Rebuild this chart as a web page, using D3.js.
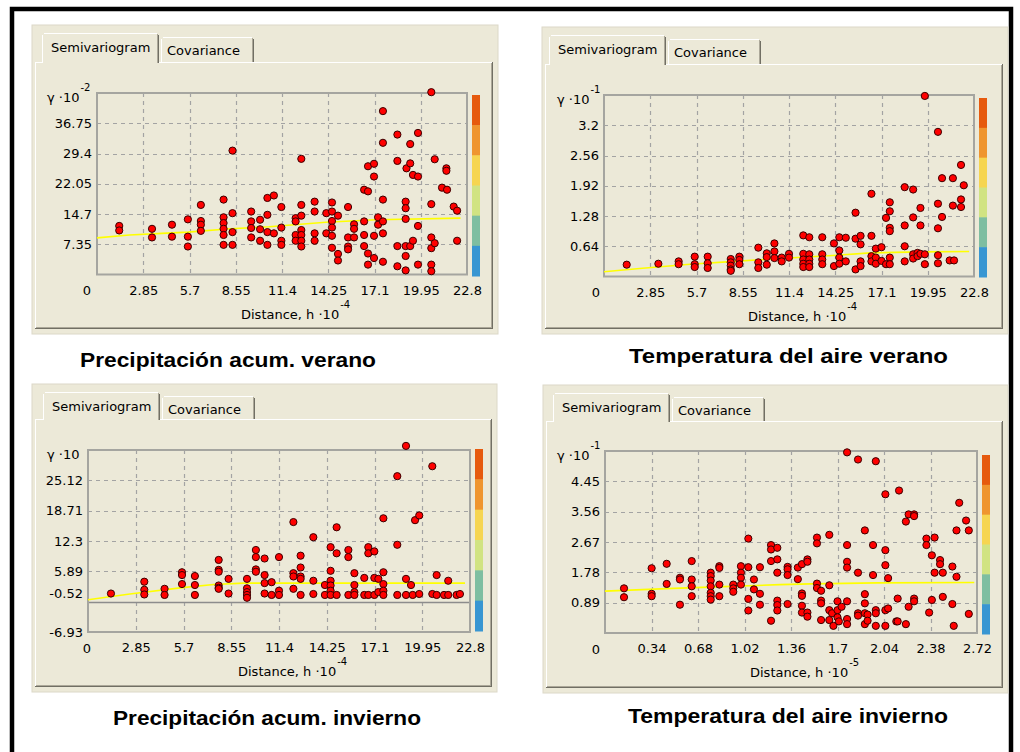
<!DOCTYPE html>
<html>
<head>
<meta charset="utf-8">
<script src="https://cdn.jsdelivr.net/npm/d3@7"></script>
<style>
  body { margin: 0; background: #fff; }
  svg { display: block; }
</style>
</head>
<body>
<svg id="fig" width="1020" height="752"></svg>
<script>
// Tick labels
const xTicksH4 = [2.85, 5.7, 8.55, 11.4, 14.25, 17.1, 19.95, 22.8];
const xTicksH5 = [0.34, 0.68, 1.02, 1.36, 1.7, 2.04, 2.38, 2.72];
const yTicksPrecVer = [7.35, 14.7, 22.05, 29.4, 36.75];
const yTicksTempVer = [0.64, 1.28, 1.92, 2.56, 3.2];
const yTicksPrecInv = [-6.93, -0.52, 5.89, 12.3, 18.71, 25.12];
const yTicksTempInv = [0.89, 1.78, 2.67, 3.56, 4.45];

// Colour bar, top to bottom
const barColors = ['#e65a0e', '#ef952f', '#f6d550', '#d1e382', '#7ebea1', '#3896d2'];

// Empirical semivariogram points [distance, gamma]
const precVeranoPts = [
  [1.37,11.8],[1.37,10.7],[3.39,11.1],[3.39,9.0],[4.62,12.1],[4.62,9.2],
  [5.6,13.4],[5.6,9.2],[5.6,6.8],[6.4,16.9],[6.4,13.0],[6.4,12.1],[6.4,10.6],
  [7.8,18.2],[7.8,13.9],[7.8,12.5],[7.8,11.1],[7.8,9.6],[7.8,7.2],
  [8.35,30.1],[8.35,14.9],[8.35,10.3],[8.35,7.2],
  [9.5,15.3],[9.5,12.9],[9.5,11.3],[9.5,9.0],[10.05,13.3],[10.05,11.0],[10.05,8.2],
  [10.5,18.6],[10.5,14.5],[10.5,10.3],[10.5,7.2],[10.9,19.2],[10.9,10.0],
  [11.36,16.4],[11.36,11.4],[11.36,8.2],[11.36,7.2],
  [12.24,13.7],[12.24,12.9],[12.24,9.6],[12.24,8.2],
  [12.59,28.1],[12.59,16.9],[12.59,14.3],[12.59,10.8],[12.59,9.6],[12.59,8.2],[12.59,6.8],
  [13.41,17.7],[13.41,15.3],[13.41,10.0],[13.41,8.2],[14.13,14.9],[14.13,10.0],
  [14.48,17.5],[14.48,15.3],[14.48,13.0],[14.48,11.4],[14.48,9.4],[14.48,6.5],
  [14.85,14.3],[14.85,5.0],[14.85,3.4],
  [15.47,16.4],[15.47,9.0],[15.47,6.8],[15.47,6.1],[15.84,12.2],[15.84,11.1],[15.84,9.0],
  [16.46,20.6],[16.46,12.9],[16.46,9.6],[16.46,6.9],
  [16.7,26.3],[16.7,20.2],[16.7,5.1],[16.7,2.4],
  [17.07,26.9],[17.07,23.8],[17.07,9.4],[17.07,4.0],[17.32,13.9],[17.32,12.1],
  [17.62,39.7],[17.62,32.0],[17.62,18.2],[17.62,12.9],[17.62,10.0],[17.62,3.1],
  [18.51,34.0],[18.51,27.6],[18.51,6.9],[18.51,2.0],
  [19.02,17.7],[19.02,16.1],[19.02,13.5],[19.02,6.9],[19.02,4.5],[19.02,1.0],
  [19.07,25.8],[19.3,31.7],[19.3,27.0],[19.3,6.9],[19.47,24.2],[19.47,8.2],
  [19.78,34.4],[19.78,23.8],[19.78,11.8],[19.78,2.4],
  [20.6,44.3],[20.6,17.1],[20.6,9.0],[20.6,6.4],[20.6,2.4],[20.6,0.8],
  [20.81,28.0],[20.81,7.6],[21.26,21.1],[21.57,20.6],[21.53,25.8],[21.53,25.2],
  [21.98,16.5],[22.19,15.5],[22.19,8.2]
];

const tempVeranoPts = [
  [1.40,0.25],[3.35,0.27],[4.6,0.32],[4.6,0.26],
  [5.59,0.42],[5.59,0.26],[5.59,0.20],[6.39,0.42],[6.39,0.28],[6.39,0.18],
  [7.81,0.37],[7.81,0.30],[7.81,0.23],[7.81,0.15],[7.81,0.12],
  [8.34,0.42],[8.34,0.35],[8.34,0.26],[9.51,0.61],[9.51,0.30],[9.51,0.18],
  [10.03,0.49],[10.03,0.41],[10.03,0.25],[10.5,0.70],[10.5,0.53],[10.5,0.39],
  [10.95,0.40],[10.95,0.32],[11.4,0.48],[11.4,0.40],
  [12.28,0.87],[12.28,0.48],[12.28,0.36],[12.28,0.27],[12.28,0.20],
  [12.65,0.83],[12.65,0.47],[12.65,0.36],[12.65,0.27],[12.65,0.20],
  [13.45,0.83],[13.45,0.47],[13.45,0.36],[13.45,0.26],[14.17,0.70],[14.17,0.22],
  [14.5,0.83],[14.5,0.55],[14.5,0.40],[14.5,0.27],[14.9,0.82],[14.9,0.32],
  [15.5,1.35],[15.5,0.80],[15.5,0.15],[15.81,0.86],[15.81,0.68],[15.81,0.32],[15.81,0.22],
  [16.48,1.75],[16.48,0.86],[16.48,0.43],[16.48,0.32],[16.75,0.59],[16.75,0.40],[16.75,0.27],
  [17.1,0.62],[17.1,0.33],[17.38,1.24],[17.38,0.26],
  [17.61,1.57],[17.61,1.38],[17.61,1.03],[17.61,0.96],[17.61,0.40],[17.61,0.26],
  [18.53,1.89],[18.53,1.08],[18.53,0.64],[18.53,0.32],
  [19.05,1.84],[19.05,1.25],[19.05,0.47],[19.05,0.38],[19.32,0.50],[19.32,0.43],
  [19.5,1.45],[19.5,1.08],[19.5,0.48],[19.77,3.82],[19.77,0.47],[19.77,0.26],
  [20.58,3.06],[20.58,1.54],[20.58,1.02],[20.58,0.45],[20.58,0.28],
  [20.83,2.08],[20.83,1.26],[21.3,0.34],[21.57,0.34],[21.5,2.08],[21.5,1.50],
  [22.0,2.36],[22.0,1.63],[22.0,1.47],[22.17,1.93]
];

const precInviernoPts = [
  [1.37,1.2],[3.36,3.7],[3.36,2.0],[3.36,1.0],[4.57,2.2],[4.57,0.9],
  [5.61,5.7],[5.61,5.1],[5.61,3.2],[6.38,4.9],[6.38,3.0],[6.38,0.9],
  [7.8,8.3],[7.8,6.2],[7.8,5.8],[7.8,2.9],[7.8,2.4],[7.8,2.2],[8.39,4.3],[8.39,1.2],
  [9.49,4.3],[9.49,2.3],[9.49,1.5],[9.49,0.9],[9.49,0.3],
  [10.02,10.4],[10.02,8.9],[10.02,6.3],[10.02,5.8],
  [10.54,8.6],[10.54,5.1],[10.54,3.4],[10.54,1.2],[10.96,3.6],[10.96,0.9],
  [11.4,8.9],[11.4,1.8],[11.4,0.9],[12.26,16.3],[12.26,5.5],[12.26,4.8],[12.26,2.2],
  [12.69,9.2],[12.69,6.7],[12.69,4.8],[12.69,4.3],[12.69,0.9],
  [13.45,13.1],[13.45,3.9],[13.45,1.1],[14.14,3.0],[14.14,0.9],
  [14.48,11.0],[14.48,6.0],[14.48,3.9],[14.48,2.9],[14.48,1.8],[14.48,0.9],
  [14.84,15.2],[14.84,9.7],[14.84,0.9],[15.54,10.4],[15.54,8.9],[15.54,0.9],
  [15.9,5.5],[15.9,3.0],[15.9,1.5],[15.9,0.9],[16.49,4.5],[16.49,0.9],[16.73,0.9],
  [16.73,11.0],[16.73,9.7],[17.09,10.1],[17.09,4.5],[17.09,0.9],[17.33,4.3],[17.33,1.5],
  [17.63,17.1],[17.63,5.7],[17.63,3.2],[17.63,1.8],[17.63,0.9],
  [18.46,26.0],[18.46,11.5],[18.46,0.9],[18.98,32.4],[18.98,4.3],[18.98,0.9],
  [19.28,3.0],[19.38,0.9],[19.52,16.7],[19.77,17.7],[19.77,1.1],
  [20.55,28.1],[20.81,5.1],[20.55,1.1],[20.81,0.9],
  [21.25,0.9],[21.5,3.9],[21.5,0.9],[22.0,0.9],[22.2,1.1]
];

const tempInviernoPts = [
  [0.139,1.31],[0.139,1.05],[0.341,1.90],[0.341,1.15],[0.341,1.08],
  [0.451,2.03],[0.451,1.44],[0.548,1.62],[0.548,1.57],[0.548,0.83],
  [0.634,2.11],[0.634,1.57],[0.634,1.37],[0.634,1.08],
  [0.773,1.77],[0.773,1.67],[0.773,1.54],[0.773,1.37],[0.773,1.18],[0.773,1.08],[0.773,0.98],
  [0.836,1.96],[0.836,1.91],[0.836,1.42],[0.836,1.08],[0.938,1.42],[0.938,1.31],[0.938,1.21],
  [0.994,1.96],[0.994,1.77],[0.994,1.62],[0.994,1.42],
  [1.048,2.77],[1.048,1.93],[1.048,1.00],[1.048,0.66],[1.089,1.57],[1.089,1.28],
  [1.133,1.93],[1.133,1.15],[1.133,0.83],[1.214,2.58],[1.214,2.45],[1.214,2.11],[1.214,0.36],
  [1.26,2.50],[1.26,2.16],[1.26,1.77],[1.26,0.95],[1.26,0.82],[1.26,0.66],
  [1.335,1.94],[1.335,1.87],[1.335,1.70],[1.335,0.85],
  [1.41,1.92],[1.41,1.58],[1.44,2.02],[1.44,1.16],[1.44,1.09],[1.44,0.80],[1.44,0.60],
  [1.48,2.16],[1.48,2.09],[1.48,0.60],[1.48,0.48],
  [1.55,2.80],[1.55,2.63],[1.55,1.45],[1.55,1.32],[1.58,1.24],[1.58,0.95],[1.58,0.87],[1.58,0.38],
  [1.64,2.88],[1.64,1.40],[1.64,0.67],[1.64,0.38],[1.66,0.58],[1.67,0.21],
  [1.70,0.93],[1.70,0.67],[1.70,0.46],[1.71,0.34],[1.73,0.77],
  [1.77,5.30],[1.77,2.58],[1.77,2.09],[1.77,1.92],[1.77,0.93],[1.77,0.41],[1.77,0.26],
  [1.85,5.09],[1.85,1.77],[1.85,0.58],[1.85,0.51],
  [1.90,3.01],[1.90,1.14],[1.90,0.87],[1.90,0.58],[1.90,0.26],[1.92,0.54],[1.92,0.36],
  [1.96,2.58],[1.96,1.70],[1.98,5.04],[1.98,0.67],[1.98,0.58],[1.98,0.21],
  [2.05,4.07],[2.05,2.43],[2.05,1.99],[2.05,0.67],[2.05,0.21],[2.07,1.61],[2.07,0.72],
  [2.13,0.34],[2.14,0.34],[2.14,1.01],[2.15,4.18],
  [2.20,3.27],[2.22,3.48],[2.26,3.48],[2.26,3.43],[2.20,0.26],[2.22,0.77],[2.26,1.01],[2.26,0.93],
  [2.35,2.77],[2.35,2.58],[2.41,2.80],[2.37,0.60],[2.39,2.28],[2.39,0.97],[2.41,1.77],
  [2.45,2.14],[2.45,2.02],[2.47,1.77],[2.47,1.06],[2.54,1.95],[2.54,0.85],[2.55,0.21],
  [2.57,3.01],[2.57,1.65],[2.59,3.82],[2.64,3.30],[2.66,3.01],[2.66,0.56]
];

// Fitted model curves (yellow)
const precVeranoModel = [[0,8.9],[2,9.6],[4,10.0],[5.6,10.3],[8.2,11.1],[10.6,11.6],[14.1,12.7],[17.2,13.3],[22.4,13.7]];
const tempVeranoModel = [[0,0.10],[2.2,0.17],[5.3,0.26],[7.55,0.31],[10.85,0.38],[14.35,0.45],[16.4,0.50],[19.5,0.52],[22.5,0.53]];
const precInviernoModel = [[0,-0.1],[2.5,1.1],[5.5,2.4],[7.5,3.1],[9.3,3.4],[22.5,3.4]];
const tempInviernoModel = [[0,1.23],[0.5,1.31],[0.87,1.36],[1.28,1.42],[1.5,1.44],[1.99,1.47],[2.70,1.48]];

const svg = d3.select('#fig');
const uiFont = '"DejaVu Sans", Tahoma, sans-serif';
const beige = '#ece9d8';

// outer black frame
svg.append('rect')
  .attr('x', 12).attr('y', 9).attr('width', 999).attr('height', 800)
  .attr('fill', 'none').attr('stroke', '#000').attr('stroke-width', 4.5);

function hline(g, x1, x2, yy, col) {
  g.append('line').attr('x1', x1).attr('x2', x2).attr('y1', yy).attr('y2', yy)
    .attr('stroke', col).attr('stroke-width', 1).attr('shape-rendering', 'crispEdges');
}
function vline(g, xx, y1, y2, col) {
  g.append('line').attr('x1', xx).attr('x2', xx).attr('y1', y1).attr('y2', y2)
    .attr('stroke', col).attr('stroke-width', 1).attr('shape-rendering', 'crispEdges');
}

function drawPanel(c) {
  const g = svg.append('g').style('font-family', uiFont).style('font-size', '13px');
  const p = c.page;

  // panel background
  g.append('rect')
    .attr('x', p.x0 - 3).attr('y', c.tabTop - 8)
    .attr('width', p.x1 - p.x0 + 8).attr('height', p.y1 - c.tabTop + 13)
    .attr('fill', beige).attr('stroke', '#dcd8c8');

  // tab page border
  const selR = c.tabX + 117, covL = selR + 2, covR = selR + 95;
  hline(g, p.x0, c.tabX, p.y0 + 0.5, '#fff');
  hline(g, selR, p.x1, p.y0 + 0.5, '#fff');
  vline(g, p.x0 + 0.5, p.y0, p.y1, '#fff');
  vline(g, p.x1 - 0.5, p.y0, p.y1, '#716f64');
  vline(g, p.x1 - 1.5, p.y0 + 1, p.y1 - 1, '#aca899');
  hline(g, p.x0, p.x1, p.y1 - 0.5, '#716f64');
  hline(g, p.x0 + 1, p.x1 - 1, p.y1 - 1.5, '#aca899');

  // selected tab
  g.append('rect').attr('x', c.tabX).attr('y', c.tabTop)
    .attr('width', selR - c.tabX).attr('height', p.y0 - c.tabTop + 1).attr('fill', beige);
  vline(g, c.tabX + 0.5, c.tabTop + 2, p.y0 + 1, '#fff');
  hline(g, c.tabX + 2, selR - 2, c.tabTop + 0.5, '#fff');
  vline(g, selR - 0.5, c.tabTop + 2, p.y0 + 1, '#716f64');
  vline(g, selR - 1.5, c.tabTop + 1, p.y0 + 1, '#aca899');
  g.append('text').attr('x', c.tabX + 9).attr('y', c.tabTop + 19).attr('fill', '#000')
    .text('Semivariogram');

  // inactive tab
  vline(g, covL + 0.5, c.tabTop + 6, p.y0, '#fff');
  hline(g, covL + 2, covR - 2, c.tabTop + 4.5, '#fff');
  vline(g, covR - 0.5, c.tabTop + 6, p.y0, '#716f64');
  vline(g, covR - 1.5, c.tabTop + 5, p.y0, '#aca899');
  g.append('text').attr('x', covL + 6).attr('y', c.tabTop + 22).attr('fill', '#000')
    .text('Covariance');

  // scales
  const x = d3.scaleLinear().domain(c.xDomain).range([c.plot.x, c.plot.x + c.plot.w]);
  const y = d3.scaleLinear().domain(c.yDomain).range([c.plot.y + c.plot.h, c.plot.y]);

  // dashed grid
  g.append('g').selectAll('line')
    .data(c.xTicks.filter(t => t < c.xDomain[1]))
    .join('line')
    .attr('x1', d => Math.round(x(d)) + 0.5).attr('x2', d => Math.round(x(d)) + 0.5)
    .attr('y1', c.plot.y).attr('y2', c.plot.y + c.plot.h)
    .attr('stroke', '#a3a3a3').attr('stroke-width', 1.2).attr('stroke-dasharray', '4,4');
  g.append('g').selectAll('line')
    .data(c.yTicks.filter(t => t > c.yDomain[0]))
    .join('line')
    .attr('x1', c.plot.x).attr('x2', c.plot.x + c.plot.w)
    .attr('y1', d => Math.round(y(d)) + 0.5).attr('y2', d => Math.round(y(d)) + 0.5)
    .attr('stroke', d => d === c.solidAt ? '#8c8c8c' : '#a3a3a3')
    .attr('stroke-width', d => d === c.solidAt ? 1.6 : 1.2)
    .attr('stroke-dasharray', d => d === c.solidAt ? null : '4,4');

  // plot frame
  g.append('rect')
    .attr('x', c.plot.x).attr('y', c.plot.y).attr('width', c.plot.w).attr('height', c.plot.h)
    .attr('fill', 'none').attr('stroke', '#a5a5a0').attr('stroke-width', 2);

  // axes (labels only)
  const yAxis = g.append('g')
    .attr('transform', `translate(${c.plot.x},0)`)
    .call(d3.axisLeft(y).tickValues(c.yTicks).tickSize(0).tickPadding(5).tickFormat(d => String(d)));
  const xAxis = g.append('g')
    .attr('transform', `translate(0,${c.plot.y + c.plot.h})`)
    .call(d3.axisBottom(x).tickValues(c.xTicks).tickSize(0).tickPadding(11).tickFormat(d => String(d)));
  [yAxis, xAxis].forEach(a => {
    a.select('.domain').remove();
    a.attr('font-family', null).attr('font-size', null);
    a.selectAll('text').attr('fill', '#000');
  });
  if (c.labelShift) {
    // the label of the solid line sits a little above it
    yAxis.selectAll('.tick text').attr('dy', d => d === c.solidAt ? `${0.32 + c.labelShift / 13}em` : '0.32em');
  }
  g.append('text').attr('x', c.zeroX).attr('y', c.plot.y + c.plot.h + 20.5)
    .attr('text-anchor', 'middle').attr('fill', '#000').text('0');

  // gamma label
  const gl = g.append('text').attr('x', c.gammaX).attr('y', c.plot.y + 9).attr('fill', '#000');
  gl.append('tspan').text('\u03b3 \u00b710');
  if (c.gammaExp) gl.append('tspan').attr('dy', -11).attr('dx', 1).style('font-size', '10px').text(c.gammaExp);

  // distance label
  const dl = g.append('text').attr('x', c.distX).attr('y', c.plot.y + c.plot.h + 44).attr('fill', '#000');
  dl.append('tspan').text('Distance, h \u00b710');
  dl.append('tspan').attr('dy', -11).attr('dx', 1).style('font-size', '10px').text(c.distExp);

  // colour bar
  const band = d3.scaleBand().domain(d3.range(barColors.length)).range([c.barY0, c.barY1]);
  g.append('g').selectAll('rect')
    .data(barColors)
    .join('rect')
    .attr('x', c.plot.x + c.plot.w + 5).attr('width', 8)
    .attr('y', (d, i) => band(i)).attr('height', band.bandwidth() + 0.5)
    .attr('fill', d => d);

  // model curve
  g.append('path')
    .datum(c.model)
    .attr('d', d3.line().x(d => x(d[0])).y(d => y(d[1])))
    .attr('fill', 'none').attr('stroke', '#ffff00').attr('stroke-width', 1.6);

  // empirical points
  g.append('g').selectAll('circle')
    .data(c.points)
    .join('circle')
    .attr('cx', d => x(d[0])).attr('cy', d => y(d[1])).attr('r', 3.6)
    .attr('fill', '#ff0000').attr('stroke', '#3a0000').attr('stroke-width', 1);

  // caption under the panel
  svg.append('text')
    .attr('x', c.title.x).attr('y', c.title.y)
    .attr('textLength', c.title.w).attr('lengthAdjust', 'spacingAndGlyphs')
    .style('font-family', '"Liberation Sans", Arial, sans-serif')
    .style('font-size', '20px').style('font-weight', 'bold').attr('fill', '#000')
    .text(c.title.text);
}

drawPanel({
  page: { x0: 35, y0: 62, x1: 493, y1: 329 }, tabX: 42, tabTop: 33,
  plot: { x: 97, y: 93, w: 370, h: 181.5 },
  xDomain: [0, 22.8], yDomain: [0, 44.1],
  xTicks: xTicksH4, yTicks: yTicksPrecVer,
  points: precVeranoPts, model: precVeranoModel,
  barY0: 95, barY1: 276, zeroX: 87, gammaX: 47, gammaExp: '-2',
  distX: 241, distExp: '-4',
  title: { text: 'Precipitación acum. verano', x: 80, y: 367, w: 296 }
});

drawPanel({
  page: { x0: 545, y0: 64, x1: 1003, y1: 329 }, tabX: 549, tabTop: 35,
  plot: { x: 604, y: 95, w: 370, h: 181.5 },
  xDomain: [0, 22.8], yDomain: [0, 3.84],
  xTicks: xTicksH4, yTicks: yTicksTempVer,
  points: tempVeranoPts, model: tempVeranoModel,
  barY0: 98, barY1: 277, zeroX: 596, gammaX: 557, gammaExp: '-1',
  distX: 748, distExp: '-4',
  title: { text: 'Temperatura del aire verano', x: 629, y: 363, w: 319 }
});

drawPanel({
  page: { x0: 35, y0: 419, x1: 492, y1: 687 }, tabX: 43, tabTop: 392,
  plot: { x: 88, y: 450, w: 382, h: 182 },
  xDomain: [0, 22.8], yDomain: [-6.93, 31.53],
  xTicks: xTicksH4, yTicks: yTicksPrecInv,
  points: precInviernoPts, model: precInviernoModel,
  solidAt: -0.52, labelShift: -8,
  barY0: 449, barY1: 631, zeroX: 87, gammaX: 47, gammaExp: null,
  distX: 238, distExp: '-4',
  title: { text: 'Precipitación acum. invierno', x: 113, y: 725, w: 308 }
});

drawPanel({
  page: { x0: 546, y0: 421, x1: 1003, y1: 688 }, tabX: 553, tabTop: 393,
  plot: { x: 605, y: 451, w: 372, h: 182 },
  xDomain: [0, 2.72], yDomain: [0, 5.34],
  xTicks: xTicksH5, yTicks: yTicksTempInv,
  points: tempInviernoPts, model: tempInviernoModel,
  barY0: 455, barY1: 634, zeroX: 596, gammaX: 557, gammaExp: '-1',
  distX: 750, distExp: '-5',
  title: { text: 'Temperatura del aire invierno', x: 628, y: 723, w: 320 }
});
</script>
</body>
</html>
